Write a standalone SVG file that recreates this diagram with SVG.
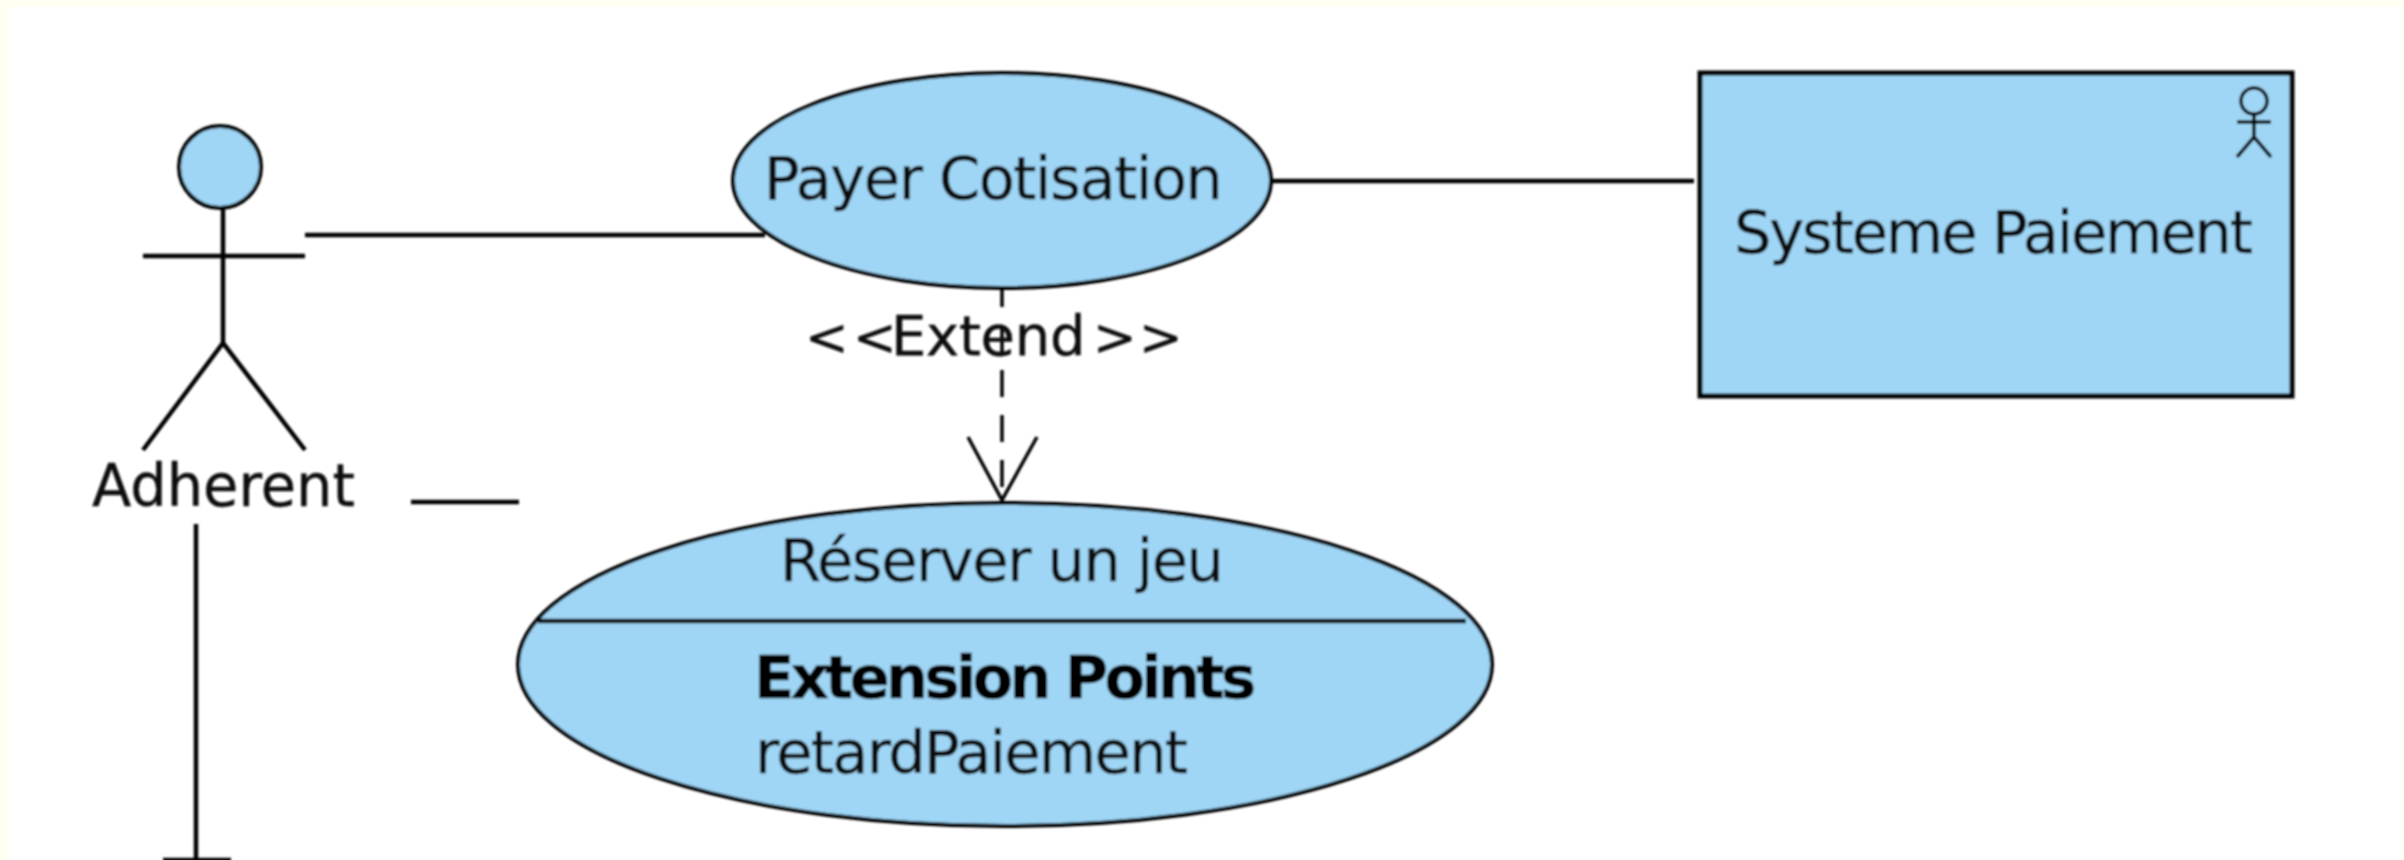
<svg xmlns="http://www.w3.org/2000/svg" width="2404" height="860" viewBox="0 0 2404 860">
<defs>
<filter id="soft" x="0" y="0" width="2404" height="860" filterUnits="userSpaceOnUse"><feGaussianBlur stdDeviation="0.9"/></filter>
</defs>
<style>
.s{fill:#9fd5f5;stroke:#000;stroke-width:4}
.l{fill:none;stroke:#000;stroke-width:4.5}
.t{font-family:"DejaVu Sans",sans-serif;font-size:59px;fill:#111;stroke:#111;stroke-width:.4}
.b{font-weight:bold;fill:#000}
</style>
<rect width="2404" height="860" fill="#fffff2"/>
<rect x="9" y="7" width="2393" height="853" fill="#fff"/>
<g filter="url(#soft)">
<g id="connectors">
<path class="l" d="M305 235H765"/>
<path class="l" d="M1271 181H1694"/>
<path class="l" d="M411 502H519"/>
<path class="l" d="M196 524V860M163 860H231"/>
<path class="l" style="stroke-width:3.5;stroke-dasharray:27 18;stroke-dashoffset:8" d="M1002 288V500"/>
<path class="l" style="stroke-width:3.5" d="M968 437L1002 500L1037 437"/>
</g>
<g id="adherent">
<circle class="s" cx="220" cy="167" r="41"/>
<path class="l" d="M223 208V343M143 256H305M143 450L223 343L305 450"/>
<text class="t" x="92" y="506" textLength="263" lengthAdjust="spacingAndGlyphs">Adherent</text>
</g>
<g id="payer-cotisation">
<ellipse class="s" cx="1002" cy="180.5" rx="269" ry="107.5"/>
<text class="t" x="764" y="199" textLength="459" lengthAdjust="spacing">Payer Cotisation</text>
</g>
<g id="extend-label">
<text class="t" y="355"><tspan x="805" font-size="52">&lt;</tspan><tspan x="853" font-size="52">&lt;</tspan><tspan x="891" font-size="56" letter-spacing="-.3">Extend</tspan><tspan x="1093" font-size="52">&gt;</tspan><tspan x="1139" font-size="52">&gt;</tspan></text>
</g>
<g id="systeme-paiement">
<rect class="s" x="1700" y="73" width="592" height="323" style="stroke-width:5"/>
<circle class="l" style="stroke-width:3.5" cx="2254" cy="101" r="13"/>
<path class="l" style="stroke-width:3.5" d="M2254 114V137M2237 122H2271M2237 157L2254 137L2271 157"/>
<text class="t" x="1734" y="253" textLength="519" lengthAdjust="spacing">Systeme Paiement</text>
</g>
<g id="reserver-un-jeu">
<ellipse class="s" cx="1005" cy="664.5" rx="487" ry="161.5"/>
<path class="l" d="M538 621H1466"/>
<text class="t" x="780" y="581" textLength="444" lengthAdjust="spacing">Réserver un jeu</text>
<text class="t b" x="754" y="698" textLength="502" lengthAdjust="spacing">Extension Points</text>
<text class="t" x="755" y="773" textLength="433" lengthAdjust="spacing">retardPaiement</text>
</g>
</g>
</svg>
